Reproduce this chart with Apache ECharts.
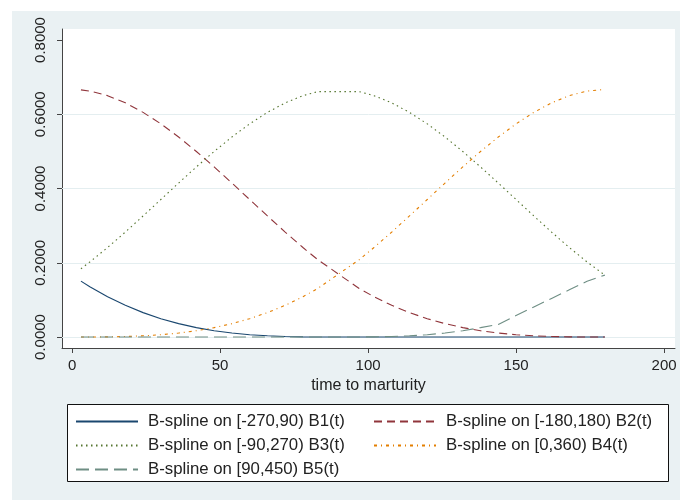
<!DOCTYPE html>
<html>
<head>
<meta charset="utf-8">
<title>B-spline basis</title>
<script src="https://cdn.jsdelivr.net/npm/echarts/dist/echarts.min.js"></script>
<style>
  body { margin: 0; background: #fff; }
  #frame { position: absolute; left: 12px; top: 11px; width: 668px; height: 489px; background: #eaf1f3; }
  #chart { position: absolute; left: 0; top: 0; width: 680px; height: 500px; }
</style>
</head>
<body>
<div id="frame"></div>
<div id="chart"></div>
<script type="text/javascript">
// time to maturity
var xs = [3, 6, 12, 18, 24, 30, 36, 42, 48, 54, 60, 66, 72, 78, 83,
          97, 102, 108, 114, 120, 126, 132, 138, 144, 150, 156, 162, 168, 174, 180];

var b1 = [0.1506, 0.1355, 0.1085, 0.0853, 0.0657, 0.0494, 0.0360, 0.0253, 0.0169, 0.0107, 0.0062, 0.0032, 0.0013, 0.0004, 0.0001,
          0, 0, 0, 0, 0, 0, 0, 0, 0, 0, 0, 0, 0, 0, 0];
var b2 = [0.6656, 0.6624, 0.6501, 0.6307, 0.6050, 0.5741, 0.5387, 0.4997, 0.4581, 0.4147, 0.3704, 0.3261, 0.2827, 0.2410, 0.2083,
          0.1307, 0.1085, 0.0853, 0.0657, 0.0494, 0.0360, 0.0253, 0.0169, 0.0107, 0.0062, 0.0032, 0.0013, 0.0004, 0.0000, 0];
var b3 = [0.1839, 0.2021, 0.2410, 0.2827, 0.3261, 0.3704, 0.4147, 0.4581, 0.4997, 0.5387, 0.5741, 0.6050, 0.6307, 0.6501, 0.6609,
          0.6609, 0.6501, 0.6307, 0.6050, 0.5741, 0.5387, 0.4997, 0.4581, 0.4147, 0.3704, 0.3261, 0.2827, 0.2410, 0.2021, 0.1667];
var b4 = [0.0000, 0.0000, 0.0004, 0.0013, 0.0032, 0.0062, 0.0107, 0.0169, 0.0253, 0.0360, 0.0494, 0.0657, 0.0853, 0.1085, 0.1307,
          0.2083, 0.2410, 0.2827, 0.3261, 0.3704, 0.4147, 0.4581, 0.4997, 0.5387, 0.5741, 0.6050, 0.6307, 0.6501, 0.6624, 0.6667];
var b5 = [0, 0, 0, 0, 0, 0, 0, 0, 0, 0, 0, 0, 0, 0, 0,
          0.0001, 0.0004, 0.0013, 0.0032, 0.0062, 0.0107, 0.0169, 0.0253, 0.0340, 0.0580, 0.0810, 0.1040, 0.1270, 0.1500, 0.1667];

var names = ['B-spline on [-270,90) B1(t)', 'B-spline on [-180,180) B2(t)', 'B-spline on [-90,270) B3(t)',
             'B-spline on [0,360) B4(t)', 'B-spline on [90,450) B5(t)'];
var xTicks = [0, 50, 100, 150, 200];
var yTicks = [0, 0.2, 0.4, 0.6, 0.8];
var gridVals = [0, 0.2, 0.4, 0.6];

var colors = ['#1a476f', '#90353b', '#55752f', '#e37e00', '#6e8e84'];
var dashes = ['solid', [8, 5], [1.5, 3.5], [3, 4, 1, 4], [13, 6]];

function pairs(ys) {
    return xs.map(function (x, i) { return [x, ys[i]]; });
}

var chart = echarts.init(document.getElementById('chart'));
var font = '"Liberation Sans", Arial, sans-serif';

var series = [b1, b2, b3, b4, b5].map(function (ys, i) {
    var s = {
        name: names[i],
        type: 'line',
        data: pairs(ys),
        symbol: 'none',
        smooth: false,
        lineStyle: { color: colors[i], width: 1.1, type: dashes[i] },
        itemStyle: { color: colors[i] },
        z: 3 + i
    };
    if (i === 0) {
        s.markLine = {
            silent: true,
            symbol: 'none',
            label: { show: false },
            lineStyle: { color: '#e4eef0', width: 1, type: 'solid' },
            data: gridVals.map(function (v) { return { yAxis: v }; }),
            z: 1
        };
    }
    return s;
});

var legendBase = {
    top: 413, orient: 'vertical', itemGap: 7, padding: 0,
    itemWidth: 62, itemHeight: 14,
    itemStyle: { opacity: 0 },
    textStyle: { fontSize: 16.8, color: '#222', fontFamily: font, padding: [0, 0, 0, 5] }
};

chart.setOption({
    animation: false,
    textStyle: { fontFamily: font },
    grid: {
        left: 62, top: 29, width: 613, height: 319,
        show: true, backgroundColor: '#ffffff', borderWidth: 0
    },
    graphic: [{
        type: 'rect',
        shape: { x: 67.5, y: 404.5, width: 601, height: 77 },
        style: { fill: '#ffffff', stroke: '#111', lineWidth: 1 },
        z: 0
    }],
    legend: [
        Object.assign({ left: 75, data: [names[0], names[2], names[4]] }, legendBase),
        Object.assign({ left: 373, data: [names[1], names[3]] }, legendBase)
    ],
    xAxis: {
        type: 'value',
        min: -3.4, max: 203.7,
        name: 'time to marturity',
        nameLocation: 'middle',
        nameGap: 30,
        nameTextStyle: { fontSize: 16, color: '#222', fontFamily: font },
        axisLine: { show: true, onZero: false, lineStyle: { color: '#444', width: 1 } },
        axisTick: { show: true, length: 5, customValues: xTicks, lineStyle: { color: '#444' } },
        axisLabel: { customValues: xTicks, fontSize: 15, color: '#222', margin: 10 },
        splitLine: { show: false }
    },
    yAxis: {
        type: 'value',
        min: -0.0296, max: 0.8296,
        axisLine: { show: true, onZero: false, lineStyle: { color: '#444', width: 1 } },
        axisTick: { show: true, length: 5, customValues: yTicks, lineStyle: { color: '#444' } },
        axisLabel: {
            customValues: yTicks, fontSize: 15, color: '#222', rotate: 90, margin: 14,
            formatter: function (v) { return v.toFixed(4); }
        },
        splitLine: { show: false }
    },
    series: series
});
</script>
</body>
</html>
